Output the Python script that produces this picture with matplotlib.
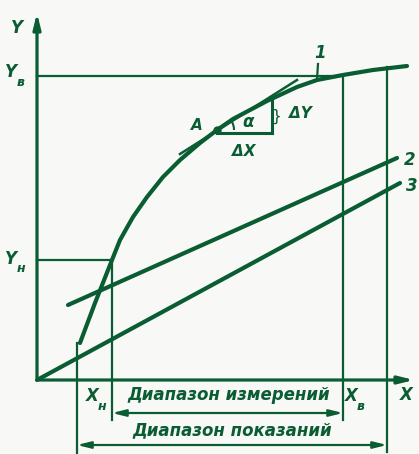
import matplotlib.pyplot as plt
from matplotlib.patches import Arc

# static characteristic of a measuring device (units: arbitrary, origin at axes crossing)
curve1_x = [43, 58, 75, 83, 96, 110, 126, 143, 163, 180, 196, 230, 260, 280, 306, 336, 370]
curve1_y = [37, 77, 120, 140, 163, 183, 203, 220, 237, 250, 261, 279, 293, 300, 305, 310, 314]
line2_x = [31, 360]
line2_y = [75, 222]
line3_x = [0, 363]
line3_y = [0, 197]

x_start, x_low, x_high, x_end = 40, 75, 306, 350
y_low, y_high = 120, 305
point_a = (180, 250)
tangent_x = [143, 260]
tangent_y = [226, 300]

c = '#0a5c32'
fig = plt.figure(figsize=(4.19, 4.54), dpi=100)
fig.patch.set_facecolor('#f8f9f6')
ax = fig.add_axes([0, 0, 1, 1])
ax.set_xlim(-37, 382)
ax.set_ylim(-74, 380)
ax.axis('off')

# axes with arrows
ax.annotate('', xy=(0, 370), xytext=(0, -1),
            arrowprops=dict(arrowstyle='-|>,head_length=0.9,head_width=0.22', lw=2.3, color=c))
ax.annotate('', xy=(380, 0), xytext=(-1, 0),
            arrowprops=dict(arrowstyle='-|>,head_length=0.9,head_width=0.22', lw=2.3, color=c))

# guide lines
ax.plot([0, x_high], [y_high - 1, y_high - 1], color=c, lw=1.6)
ax.plot([0, x_low], [y_low, y_low], color=c, lw=1.6)
ax.plot([x_low, x_low], [y_low, -40], color=c, lw=1.6)
ax.plot([x_high, x_high], [y_high, -40], color=c, lw=1.6)
ax.plot([x_start, x_start], [curve1_y[0], -74], color=c, lw=1.6)
ax.plot([x_end, x_end], [313, -72], color=c, lw=1.6)

# characteristics
ax.plot(curve1_x, curve1_y, color=c, lw=3.0, solid_capstyle='round', solid_joinstyle='round')
ax.plot(line2_x, line2_y, color=c, lw=3.0, solid_capstyle='round')
ax.plot(line3_x, line3_y, color=c, lw=3.0, solid_capstyle='round')

# tangent and slope triangle at A
ax.plot(tangent_x, tangent_y, color=c, lw=1.8)
ax.plot([point_a[0], 235], [point_a[1] - 3, point_a[1] - 3], color=c, lw=2.2)
ax.plot([235, 235], [point_a[1] - 3, 281], color=c, lw=2.2)
ax.plot(*point_a, 'o', color=c, ms=5)
ax.add_patch(Arc(point_a, 34, 34, theta1=0, theta2=32, color=c, lw=1.5))

# dimension lines
ax.annotate('', xy=(x_low, -33), xytext=(x_high, -33),
            arrowprops=dict(arrowstyle='<|-|>,head_length=0.8,head_width=0.2', lw=1.6, color=c,
                            shrinkA=0, shrinkB=0))
ax.annotate('', xy=(x_start, -65), xytext=(x_end, -65),
            arrowprops=dict(arrowstyle='<|-|>,head_length=0.8,head_width=0.2', lw=1.6, color=c,
                            shrinkA=0, shrinkB=0))

fp = dict(color=c, style='italic', family='DejaVu Sans', fontweight='bold')


def label(x, y, main, sub):
    ax.text(x, y, main, fontsize=12, ha='center', va='center', **fp)
    ax.text(x + 10, y - 10, sub, fontsize=9, ha='center', va='center', **fp)


ax.text(-20, 352, 'Y', fontsize=12, ha='center', va='center', **fp)
label(-26, 308, 'Y', 'в')
label(-26, 121, 'Y', 'н')
label(55, -16, 'X', 'н')
label(314, -16, 'X', 'в')
ax.text(369, -15, 'X', fontsize=12, ha='center', va='center', **fp)
ax.text(283, 327, '1', fontsize=12, ha='center', va='center', **fp)
ax.plot([281, 280], [316, 301], color=c, lw=1.6)
ax.text(373, 220, '2', fontsize=12, ha='center', va='center', **fp)
ax.text(375, 194, '3', fontsize=12, ha='center', va='center', **fp)
ax.text(160, 254, 'A', fontsize=11, ha='center', va='center', **fp)
ax.text(211, 258, 'α', fontsize=12, ha='center', va='center', **fp)
ax.text(239, 264, '}', fontsize=11, ha='center', va='center', color=c)
ax.text(263, 267, 'ΔY', fontsize=11, ha='center', va='center', **fp)
ax.text(207, 228, 'ΔX', fontsize=11, ha='center', va='center', **fp)
ax.text(192, -15, 'Диапазон измерений', fontsize=12, ha='center', va='center', **fp)
ax.text(195, -50, 'Диапазон показаний', fontsize=12, ha='center', va='center', **fp)

fig.savefig('out.png', dpi=100, facecolor=fig.get_facecolor())
